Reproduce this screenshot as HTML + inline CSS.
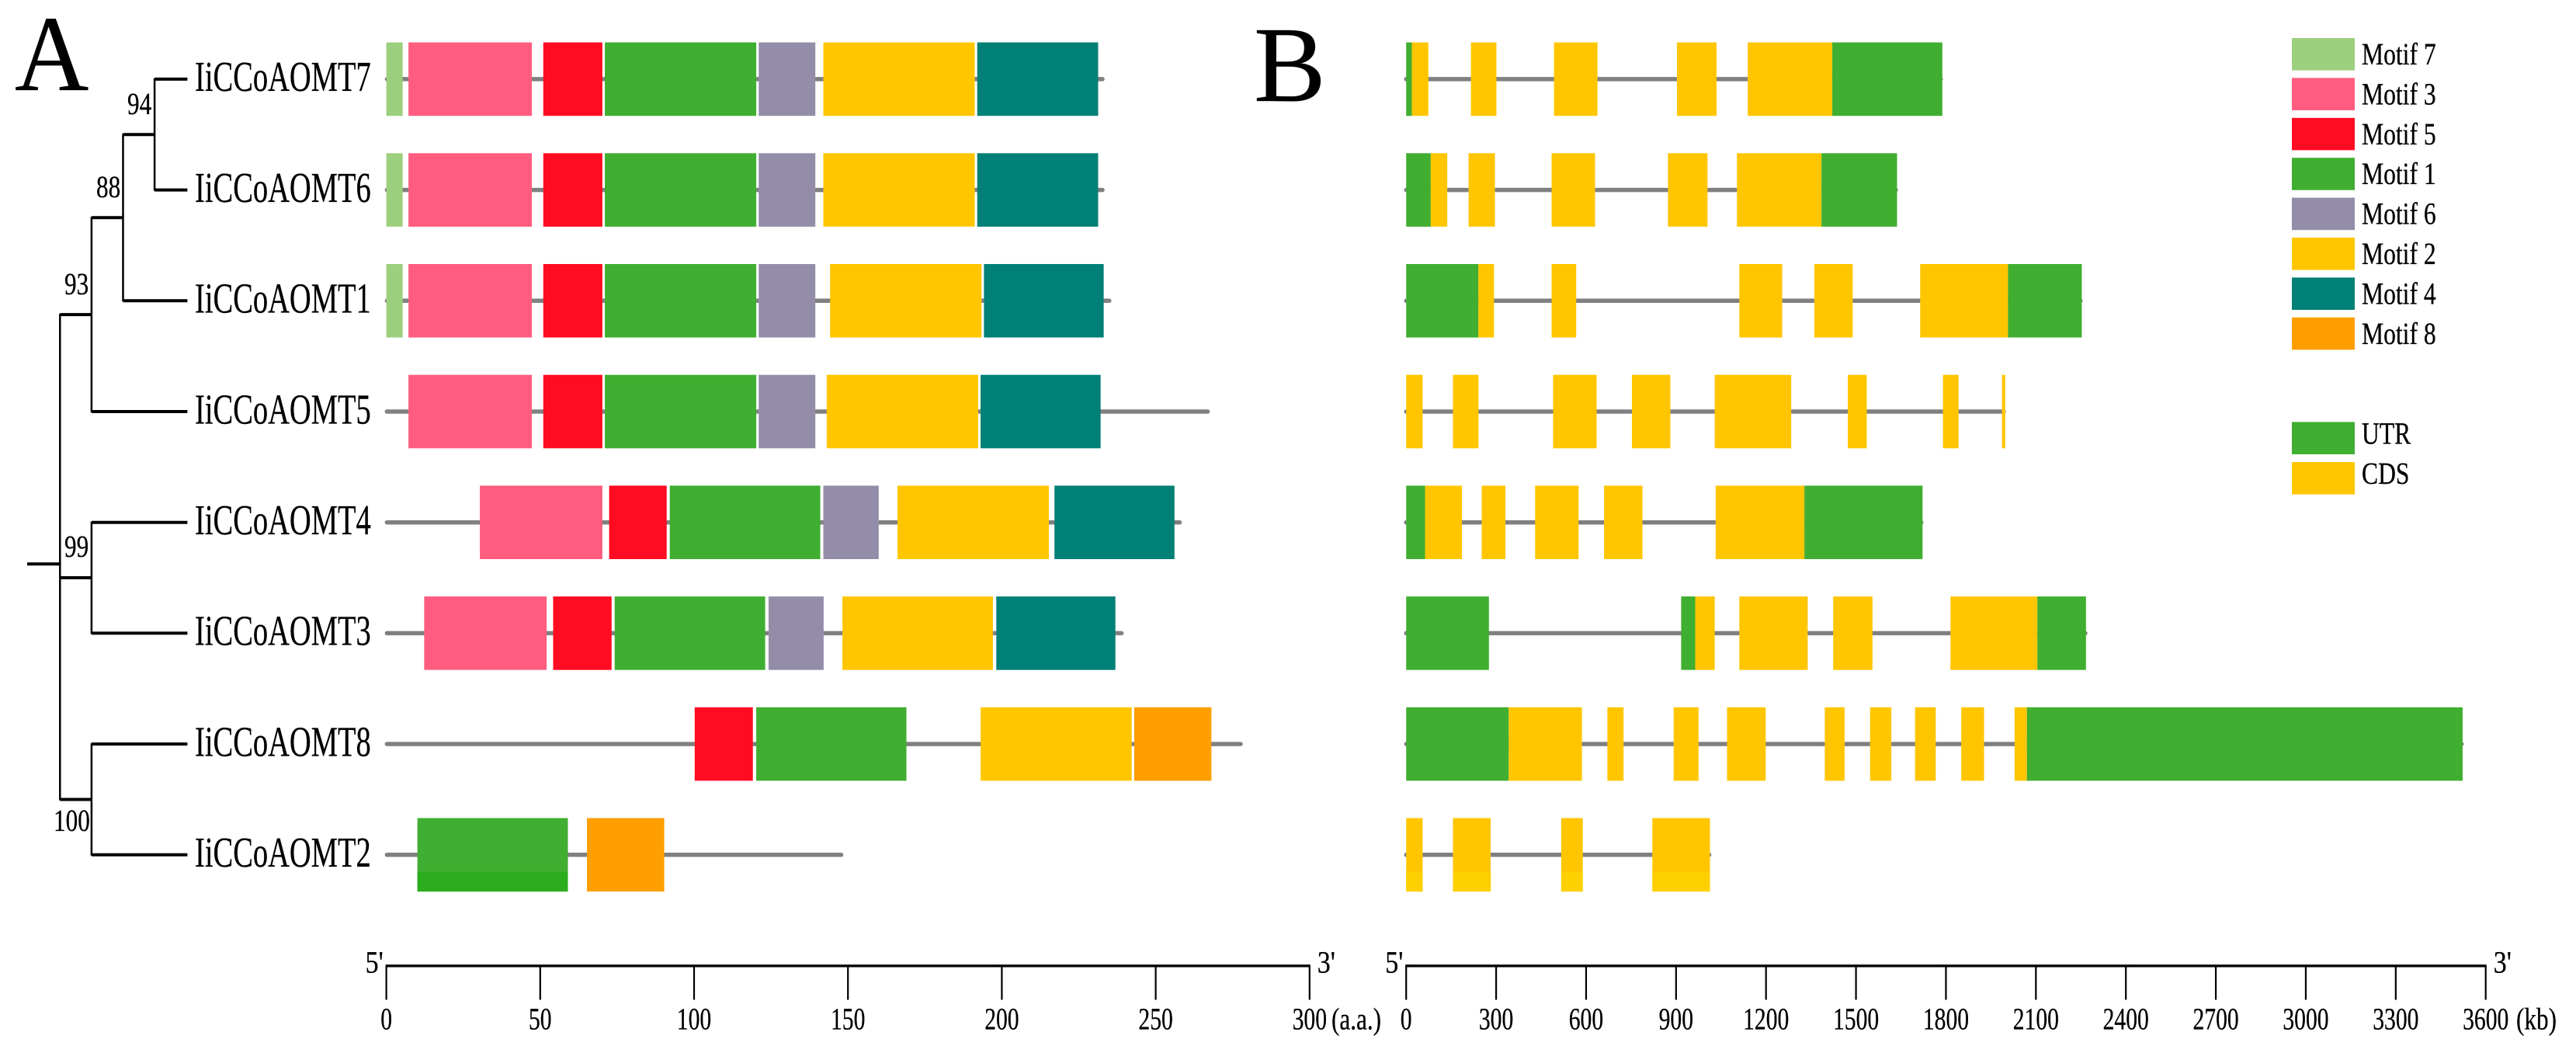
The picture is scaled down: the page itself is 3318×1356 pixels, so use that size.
<!DOCTYPE html>
<html lang="en">
<head>
<meta charset="utf-8">
<title>IiCCoAOMT motifs and gene structure</title>
<style>
html,body{margin:0;padding:0;background:#fff;}
svg{display:block;}
text{font-family:"Liberation Serif",serif;fill:#000;stroke:#000;stroke-width:0.3;text-rendering:geometricPrecision;}
</style>
</head>
<body>
<svg id="chart" xmlns="http://www.w3.org/2000/svg" width="3318" height="1356" viewBox="0 0 3318 1356">
  <rect width="3318" height="1356" fill="#fff"/>
  <text transform="translate(19,116) scale(0.95,1)" font-size="139">A</text>
  <text transform="translate(1615,130)" font-size="139">B</text>
  <g id="tree"></g>
  <g id="panelA"></g>
  <g id="panelB"></g>
  <g id="axisA"></g>
  <g id="axisB"></g>
  <g id="legend"></g>
</svg>
<script>
const geneNames = ["IiCCoAOMT7","IiCCoAOMT6","IiCCoAOMT1","IiCCoAOMT5","IiCCoAOMT4","IiCCoAOMT3","IiCCoAOMT8","IiCCoAOMT2"];

const proteinLengths = [233.4,233.4,235.6,267.6,258.5,239.6,278.3,148.5];

const motifColors = {"Motif 7":"#9CCF7E","Motif 3":"#FF5C7F","Motif 5":"#FF0B22","Motif 1":"#40AE30","Motif 6":"#948DA9","Motif 2":"#FFC600","Motif 4":"#008076","Motif 8":"#FF9E00"};

const motifsT7 = [["Motif 7",0,5.3],["Motif 3",7.2,47.3],["Motif 5",51,70.2],["Motif 1",71,120.2],["Motif 6",121,139.4],["Motif 2",142,191.2],["Motif 4",192,231.3]];
const motifsT6 = [["Motif 7",0,5.3],["Motif 3",7.2,47.3],["Motif 5",51,70.2],["Motif 1",71,120.2],["Motif 6",121,139.4],["Motif 2",142,191.2],["Motif 4",192,231.3]];
const motifsT1 = [["Motif 7",0,5.3],["Motif 3",7.2,47.3],["Motif 5",51,70.2],["Motif 1",71,120.2],["Motif 6",121,139.4],["Motif 2",144.2,193.4],["Motif 4",194.2,233.1]];
const motifsT5 = [["Motif 3",7.2,47.3],["Motif 5",51,70.2],["Motif 1",71,120.2],["Motif 6",121,139.4],["Motif 2",143.1,192.3],["Motif 4",193.1,232.1]];
const motifsT4 = [["Motif 3",30.4,70.2],["Motif 5",72.4,91.1],["Motif 1",92.1,141],["Motif 6",142,160],["Motif 2",166.1,215.3],["Motif 4",217.1,256.1]];
const motifsT3 = [["Motif 3",12.3,52.1],["Motif 5",54.2,73.2],["Motif 1",74.2,123.1],["Motif 6",124.2,142.1],["Motif 2",148.2,197.1],["Motif 4",198.2,236.9]];
const motifsT8 = [["Motif 5",100.2,119.1],["Motif 1",120.2,169],["Motif 2",193.1,242.2],["Motif 8",243,268.1]];
const motifsT2 = [["Motif 1",10.1,59],["Motif 8",65.2,90.3]];
const motifRows = [motifsT7,motifsT6,motifsT1,motifsT5,motifsT4,motifsT3,motifsT8,motifsT2];

const geneLengths = [1790,1640,2256,2000,1725,2272,3527,1018];

const exonsT7 = [["UTR",0,19],["CDS",19,74],["CDS",216,301],["CDS",493,638],["CDS",903,1035],["CDS",1139,1421],["UTR",1421,1788]];
const exonsT6 = [["UTR",0,82],["CDS",82,137],["CDS",208,296],["CDS",485,630],["CDS",873,1005],["CDS",1103,1385],["UTR",1385,1637]];
const exonsT1 = [["UTR",0,241],["CDS",241,293],["CDS",485,567],["CDS",1111,1254],["CDS",1361,1489],["CDS",1714,2007],["UTR",2007,2253]];
const exonsT5 = [["CDS",0,55],["CDS",156,241],["CDS",490,635],["CDS",753,881],["CDS",1029,1284],["CDS",1473,1536],["CDS",1790,1842],["CDS",1987,1998]];
const exonsT4 = [["UTR",0,63],["CDS",63,186],["CDS",252,331],["CDS",430,575],["CDS",660,788],["CDS",1032,1328],["UTR",1328,1722]];
const exonsT3 = [["UTR",0,276],["UTR",917,964],["CDS",964,1029],["CDS",1111,1339],["CDS",1424,1555],["CDS",1815,2105],["UTR",2105,2267]];
const exonsT8 = [["UTR",0,342],["CDS",342,586],["CDS",671,725],["CDS",892,975],["CDS",1070,1199],["CDS",1396,1462],["CDS",1547,1618],["CDS",1697,1766],["CDS",1851,1927],["CDS",2029,2070],["UTR",2070,3523]];
const exonsT2 = [["CDS",0,55],["CDS",156,282],["CDS",517,589],["CDS",821,1013]];
const exonRows = [exonsT7,exonsT6,exonsT1,exonsT5,exonsT4,exonsT3,exonsT8,exonsT2];

const structureColors = {"UTR":"#40AE30","CDS":"#FFC600"};

const aaTicks = [0,50,100,150,200,250,300];
const bpTicks = [0,300,600,900,1200,1500,1800,2100,2400,2700,3000,3300,3600];

const treeShape = [[[[[0,1],2],3],[[4,5]]],[6,7]];
const legendMotifs = ["Motif 7","Motif 3","Motif 5","Motif 1","Motif 6","Motif 2","Motif 4","Motif 8"];
const legendStructure = ["UTR","CDS"];

const NS = "http://www.w3.org/2000/svg";
const xA = v => 497.6 + v * 3.964;
const xB = v => 1811.2 + v * 0.38625;
const rowY = i => 101.9 + i * 142.7;
const BOX = 47.3;
const CAP = 2.75;

function rect(parent, x, y, w, h, fill) {
  const el = document.createElementNS(NS, "rect");
  el.setAttribute("x", x);
  el.setAttribute("y", y);
  el.setAttribute("width", w);
  el.setAttribute("height", h);
  el.setAttribute("fill", fill);
  parent.appendChild(el);
  return el;
}
function line(parent, x1, y1, x2, y2, stroke, sw, cap) {
  const el = document.createElementNS(NS, "line");
  el.setAttribute("x1", x1);
  el.setAttribute("y1", y1);
  el.setAttribute("x2", x2);
  el.setAttribute("y2", y2);
  el.setAttribute("stroke", stroke);
  el.setAttribute("stroke-width", sw);
  if (cap) el.setAttribute("stroke-linecap", cap);
  parent.appendChild(el);
  return el;
}
function label(parent, x, y, str, size, sx, anchor) {
  const el = document.createElementNS(NS, "text");
  el.setAttribute("transform", "translate(" + x + "," + y + ") scale(" + sx + ",1)");
  el.setAttribute("font-size", size);
  if (anchor) el.setAttribute("text-anchor", anchor);
  el.textContent = str;
  parent.appendChild(el);
  return el;
}

/* tree */
const treeG = document.getElementById("tree");
const levelX = d => 77.3 + d * 40.6;
const bootstrapLabels = [
  {text:"94", x:164, y:147},
  {text:"88", x:124, y:254},
  {text:"93", x:83, y:379},
  {text:"99", x:83, y:717},
  {text:"100", x:69, y:1070}
];
function drawNode(node, depth, parentX) {
  if (typeof node === "number") {
    const y = rowY(node);
    const b = line(treeG, parentX, y, 241.4, y, "#000", 4);
    
    
    return y;
  }
  const x = levelX(depth);
  const kids = node.map(k => drawNode(k, depth + 1, x));
  const y = kids.reduce((a, b) => a + b, 0) / kids.length;
  const v = line(treeG, x, Math.min(...kids) - 1, x, Math.max(...kids) + 1, "#000", 2.5);
  
  
  if (parentX !== null) {
    const h = line(treeG, parentX, y, x, y, "#000", 4);
    
    
  }
  return y;
}
const flatTree = [treeShape[0][0], treeShape[0][1][0], treeShape[1]];
const rootY = drawNode(flatTree, 0, null);
const rootBranch = line(treeG, 35, rootY, 77.3, rootY, "#000", 4);


bootstrapLabels.forEach(b => {
  const t = label(treeG, b.x, b.y, b.text, 40, 0.78);
  
  
});

/* gene labels and motif rows */
const panelA = document.getElementById("panelA");
geneNames.forEach((name, i) => {
  const y = rowY(i);
  const t = label(panelA, 251, y + 15.3, name, 55, 0.7);
  
  
  const bb = line(panelA, xA(0) + CAP - 2, y, xA(proteinLengths[i]) - CAP, y, "#808080", 5.5, "round");
  
  
  motifRows[i].forEach(m => {
    const r = rect(panelA, xA(m[1]), y - BOX, xA(m[2]) - xA(m[1]), BOX * 2, motifColors[m[0]]);
    
    
  });
});

/* gene structure rows */
const panelB = document.getElementById("panelB");
exonRows.forEach((row, i) => {
  const y = rowY(i);
  const bb = line(panelB, xB(0), y, xB(geneLengths[i]) - CAP, y, "#808080", 5.5, "round");
  
  
  row.forEach(e => {
    const r = rect(panelB, xB(e[1]), y - BOX, xB(e[2]) - xB(e[1]), BOX * 2, structureColors[e[0]]);
    
    
  });
});

/* slightly different tint in the lowest band of the last row */
const lastRow = motifRows.length - 1;
motifRows[lastRow].filter(m => m[0] === "Motif 1").forEach(m => {
  const r = rect(panelA, xA(m[1]), rowY(lastRow) + 22, xA(m[2]) - xA(m[1]), BOX - 22, "#2CAD1F");
  
  
});
exonRows[lastRow].forEach(e => {
  const r = rect(panelB, xB(e[1]), rowY(lastRow) + 22, xB(e[2]) - xB(e[1]), BOX - 22, "#FFD000");
  
  
});

/* axes */
function drawAxis(group, scale, ticks, unit, unitX) {
  const first = ticks[0];
  const last = ticks[ticks.length - 1];
  const main = line(group, scale(first) - 1, 1243.8, scale(last) + 1, 1243.8, "#000", 3.4);
  
  
  ticks.forEach(v => {
    const t = line(group, scale(v), 1244, scale(v), 1287.5, "#000", 2.2);
    
    
    const l = label(group, scale(v), 1325.5, String(v), 40, 0.74, "middle");
    
    
  });
  const five = label(group, scale(first) - 27, 1252.5, "5'", 40, 0.85);
  
  
  const three = label(group, scale(last) + 10, 1252.5, "3'", 40, 0.85);
  
  
  const u = label(group, unitX, 1325.5, unit, 40, 0.78);
  
  
}
drawAxis(document.getElementById("axisA"), xA, aaTicks, "(a.a.)", 1715);
drawAxis(document.getElementById("axisB"), xB, bpTicks, "(kb)", 3241);

/* legend */
const legendG = document.getElementById("legend");
legendMotifs.forEach((name, i) => {
  const top = 49 + i * 51.4;
  const s = rect(legendG, 2952, top, 81, 41.6, motifColors[name]);
  
  
  const t = label(legendG, 3042, top + 34, name, 40, 0.79);
  
  
});
legendStructure.forEach((name, i) => {
  const top = 543.4 + i * 51.6;
  const s = rect(legendG, 2952, top, 81, 41.6, structureColors[name]);
  
  
  const t = label(legendG, 3042, top + 28, name, 40, 0.79);
  
  
});
</script>
</body>
</html>
